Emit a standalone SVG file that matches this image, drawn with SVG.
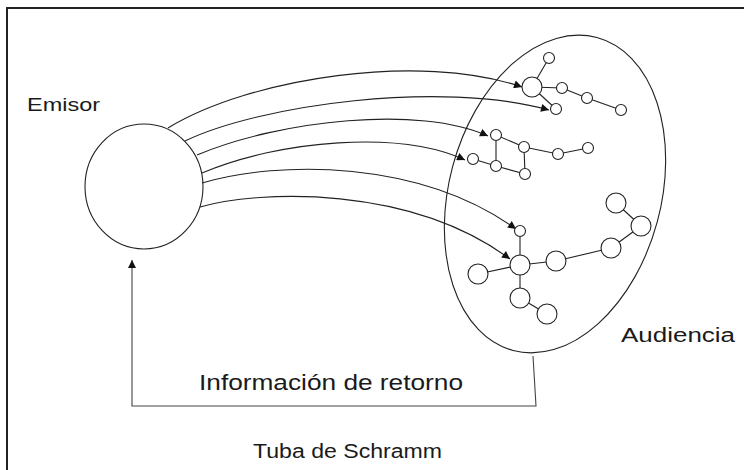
<svg xmlns="http://www.w3.org/2000/svg" width="744" height="470" viewBox="0 0 744 470">
<defs>
<style>
.ln{fill:none;stroke:#222;stroke-width:1.1}
.nd{fill:#fff;stroke:#222;stroke-width:1.1}
.ed{stroke:#222;stroke-width:1.1}
.tx{font-family:"Liberation Sans",Arial,sans-serif;fill:#1a1a1a}
</style>
<marker id="ah" viewBox="0 0 10 10" refX="10" refY="5" markerWidth="11" markerHeight="8" markerUnits="userSpaceOnUse" orient="auto">
<path d="M0,0 L10,5 L0,10 Z" fill="#111"/>
</marker>
</defs>
<rect x="0" y="0" width="744" height="470" fill="#fff"/>
<rect id="frame" x="7" y="8" width="800" height="500" fill="none" stroke="#222" stroke-width="2"/>

<g id="emisor">
<ellipse cx="144" cy="186.5" rx="59" ry="62.5" class="nd"/>
<text class="tx" x="27" y="111" font-size="19" textLength="73" lengthAdjust="spacingAndGlyphs">Emisor</text>
</g>

<g id="audiencia">
<ellipse cx="555" cy="194" rx="106" ry="162" transform="rotate(15 555 194)" class="ln"/>
<text class="tx" x="621" y="342" font-size="20" textLength="114" lengthAdjust="spacingAndGlyphs">Audiencia</text>
</g>

<g id="connectors">
<path class="ln" d="M168,128 C250,78 420,52 522,87" marker-end="url(#ah)"/>
<path class="ln" d="M185,141 C260,105 440,80 549,110" marker-end="url(#ah)"/>
<path class="ln" d="M197,155 C280,120 420,105 488,136" marker-end="url(#ah)"/>
<path class="ln" d="M202,173 C280,140 400,130 465,160" marker-end="url(#ah)"/>
<path class="ln" d="M202,183 C280,160 420,160 516,229" marker-end="url(#ah)"/>
<path class="ln" d="M200,207 C260,190 410,185 510,259" marker-end="url(#ah)"/>
<path d="M533,356 L536,406 L132,406 L132,260" fill="none" stroke="#444" stroke-width="1.1" marker-end="url(#ah)"/>
</g>

<g id="cluster1">
<line class="ed" x1="532" y1="87" x2="549" y2="58"/>
<line class="ed" x1="532" y1="87" x2="556" y2="109"/>
<line class="ed" x1="532" y1="87" x2="562" y2="88"/>
<line class="ed" x1="562" y1="88" x2="587" y2="98"/>
<line class="ed" x1="587" y1="98" x2="621" y2="110"/>
<circle class="nd" cx="532" cy="87" r="10"/>
<circle class="nd" cx="549" cy="58" r="5.5"/>
<circle class="nd" cx="556" cy="109" r="5.5"/>
<circle class="nd" cx="562" cy="88" r="5.5"/>
<circle class="nd" cx="587" cy="98" r="5.5"/>
<circle class="nd" cx="621" cy="110" r="5.5"/>
</g>

<g id="cluster2">
<line class="ed" x1="496" y1="135" x2="496" y2="166"/>
<line class="ed" x1="496" y1="135" x2="524" y2="147"/>
<line class="ed" x1="524" y1="147" x2="558" y2="154"/>
<line class="ed" x1="558" y1="154" x2="588" y2="148"/>
<line class="ed" x1="524" y1="147" x2="525" y2="174"/>
<line class="ed" x1="473" y1="159" x2="496" y2="166"/>
<line class="ed" x1="496" y1="166" x2="525" y2="174"/>
<circle class="nd" cx="496" cy="135" r="5.5"/>
<circle class="nd" cx="524" cy="147" r="5.5"/>
<circle class="nd" cx="558" cy="154" r="5.5"/>
<circle class="nd" cx="588" cy="148" r="5.5"/>
<circle class="nd" cx="473" cy="159" r="5.5"/>
<circle class="nd" cx="496" cy="166" r="5.5"/>
<circle class="nd" cx="525" cy="174" r="5.5"/>
</g>

<g id="cluster3">
<line class="ed" x1="520" y1="231" x2="520" y2="265"/>
<line class="ed" x1="520" y1="265" x2="478" y2="274"/>
<line class="ed" x1="520" y1="265" x2="556" y2="261"/>
<line class="ed" x1="556" y1="261" x2="611" y2="248"/>
<line class="ed" x1="611" y1="248" x2="641" y2="226"/>
<line class="ed" x1="641" y1="226" x2="616" y2="203"/>
<line class="ed" x1="520" y1="265" x2="520" y2="298"/>
<line class="ed" x1="520" y1="298" x2="547" y2="314"/>
<circle class="nd" cx="520" cy="231" r="5.5"/>
<circle class="nd" cx="520" cy="265" r="10"/>
<circle class="nd" cx="478" cy="274" r="10"/>
<circle class="nd" cx="556" cy="261" r="10"/>
<circle class="nd" cx="611" cy="248" r="10"/>
<circle class="nd" cx="641" cy="226" r="10"/>
<circle class="nd" cx="616" cy="203" r="10"/>
<circle class="nd" cx="520" cy="298" r="10"/>
<circle class="nd" cx="547" cy="314" r="10"/>
</g>

<g id="labels">
<text class="tx" x="199" y="390" font-size="22" textLength="264" lengthAdjust="spacingAndGlyphs">Información de retorno</text>
<text class="tx" x="253" y="458" font-size="20" textLength="189" lengthAdjust="spacingAndGlyphs">Tuba de Schramm</text>
</g>
</svg>
